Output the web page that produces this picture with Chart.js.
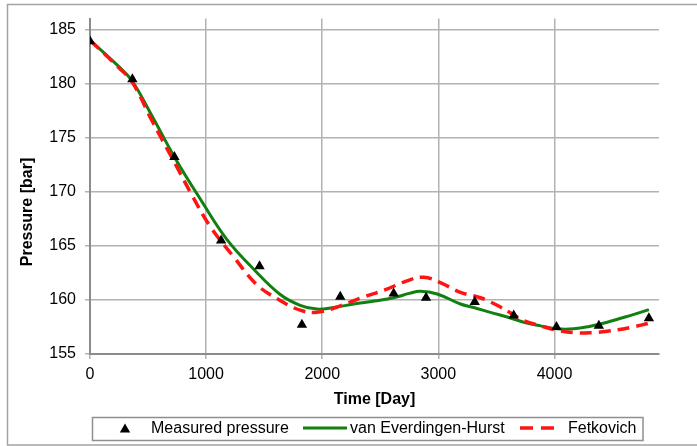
<!DOCTYPE html>
<html>
<head>
<meta charset="utf-8">
<script src="https://cdn.jsdelivr.net/npm/chart.js@4/dist/chart.umd.min.js"></script>
<style>
  html, body { margin: 0; padding: 0; background: #ffffff; }
  #wrap { position: absolute; left: 0; top: 0; width: 697px; height: 446px; }
</style>
</head>
<body>
<div id="wrap"><canvas id="c" width="697" height="446"></canvas></div>
<script>
// ---- data ----
const measuredDays     = [0, 365, 727, 1129, 1460, 1825, 2155, 2615, 2894, 3313, 3649, 4017, 4382, 4813];
const measuredPressure = [183.9, 180.4, 173.2, 165.5, 163.1, 157.7, 160.3, 160.6, 160.2, 159.8, 158.55, 157.5, 157.6, 158.3];

const vehDays     = [0, 244, 359, 532, 733, 963, 1178, 1422, 1638, 1810, 1954, 2100, 2270, 2450, 2615, 2750, 2845, 2990, 3190, 3305, 3448, 3600, 3735, 3880, 4023, 4167, 4300, 4454, 4650, 4813];
const vehPressure = [184.0, 181.6, 180.3, 177.05, 173.1, 169.1, 165.6, 162.7, 160.5, 159.5, 159.15, 159.3, 159.62, 159.9, 160.2, 160.6, 160.8, 160.55, 159.62, 159.3, 158.85, 158.4, 157.94, 157.6, 157.33, 157.33, 157.55, 157.94, 158.55, 159.1];

const fetDays     = [0, 244, 365, 532, 733, 877, 1034, 1236, 1437, 1638, 1810, 1954, 2155, 2328, 2557, 2730, 2873, 3017, 3190, 3362, 3506, 3620, 3735, 3880, 4023, 4196, 4330, 4454, 4655, 4813];
const fetPressure = [184.0, 181.5, 180.1, 176.6, 172.6, 169.7, 166.8, 164.0, 161.4, 159.95, 159.05, 158.85, 159.45, 160.17, 161.0, 161.76, 162.1, 161.6, 160.7, 160.2, 159.5, 158.8, 158.1, 157.6, 157.2, 156.95, 156.98, 157.1, 157.45, 157.85];

const xTicks = [0, 1000, 2000, 3000, 4000];
const yTicks = [155, 160, 165, 170, 175, 180, 185];

const seriesNames = ['Measured pressure', 'van Everdingen-Hurst', 'Fetkovich'];
const xTitle = 'Time [Day]';
const yTitle = 'Pressure [bar]';

// ---- styles ----
const FONT = '"Liberation Sans", Arial, sans-serif';
const GREEN = '#118011';
const RED = '#ff1414';
const GRID = '#b2b2b2';
const AXIS = '#8c8c8c';

function toXY(xs, ys) { return xs.map((x, i) => ({ x: x, y: ys[i] })); }

const decor = {
  id: 'decor',
  beforeDraw(chart) {
    const ctx = chart.ctx;
    ctx.save();
    ctx.fillStyle = '#ffffff';
    ctx.fillRect(0, 0, chart.width, chart.height);
    ctx.restore();
  },
  afterDraw(chart) {
    const ctx = chart.ctx;
    ctx.save();
    // outer frame
    ctx.strokeStyle = '#a3a3a3';
    ctx.lineWidth = 1.5;
    ctx.strokeRect(7.5, 4.5, 700, 440.5);

    // y axis title
    ctx.fillStyle = '#000';
    ctx.font = 'bold 16px ' + FONT;
    ctx.textAlign = 'center';
    ctx.textBaseline = 'middle';
    ctx.save();
    ctx.translate(27.5, 212);
    ctx.rotate(-Math.PI / 2);
    ctx.fillText(yTitle, 0, 0);
    ctx.restore();

    // legend
    const ly = 428.5;
    ctx.strokeStyle = '#8e8e8e';
    ctx.lineWidth = 1.5;
    ctx.strokeRect(92.5, 417.5, 550.5, 23);
    const r = 6, tx = 125, ty = ly + 1;
    ctx.fillStyle = '#000';
    ctx.beginPath();
    ctx.moveTo(tx, ty - r);
    ctx.lineTo(tx + Math.sin(2 * Math.PI / 3) * r, ty - Math.cos(2 * Math.PI / 3) * r);
    ctx.lineTo(tx + Math.sin(4 * Math.PI / 3) * r, ty - Math.cos(4 * Math.PI / 3) * r);
    ctx.closePath();
    ctx.fill();
    ctx.strokeStyle = GREEN; ctx.lineWidth = 3; ctx.setLineDash([]);
    ctx.beginPath(); ctx.moveTo(303, ly - 0.5); ctx.lineTo(347, ly - 0.5); ctx.stroke();
    ctx.strokeStyle = RED; ctx.lineWidth = 3.5; ctx.setLineDash([13, 8]);
    ctx.beginPath(); ctx.moveTo(520, ly - 0.5); ctx.lineTo(555, ly - 0.5); ctx.stroke();
    ctx.setLineDash([]);
    ctx.fillStyle = '#000';
    ctx.font = '16px ' + FONT;
    ctx.textAlign = 'left';
    ctx.textBaseline = 'middle';
    ctx.fillText(seriesNames[0], 151, ly);
    ctx.fillText(seriesNames[1], 350, ly);
    ctx.fillText(seriesNames[2], 568, ly);
    ctx.restore();
  }
};

new Chart(document.getElementById('c'), {
  type: 'scatter',
  data: {
    datasets: [
      {
        label: seriesNames[0],
        data: toXY(measuredDays, measuredPressure),
        showLine: false,
        pointStyle: 'triangle',
        pointRadius: 6,
        pointBackgroundColor: '#000',
        pointBorderColor: '#000',
        pointBorderWidth: 0,
        order: 0
      },
      {
        label: seriesNames[1],
        data: toXY(vehDays, vehPressure),
        showLine: true,
        borderColor: GREEN,
        borderWidth: 3,
        pointRadius: 0,
        tension: 0.4,
        order: 2
      },
      {
        label: seriesNames[2],
        data: toXY(fetDays, fetPressure),
        showLine: true,
        borderColor: RED,
        borderWidth: 3.5,
        borderDash: [12, 7],
        pointRadius: 0,
        tension: 0.4,
        order: 1
      }
    ]
  },
  options: {
    responsive: false,
    animation: false,
    devicePixelRatio: 1,
    layout: { padding: { left: 0, right: 38, top: 16, bottom: 0 } },
    plugins: {
      legend: { display: false },
      tooltip: { enabled: false }
    },
    scales: {
      x: {
        type: 'linear',
        min: 0,
        max: 4900,
        afterFit(s) { s.height = 92; },
        afterBuildTicks(s) { s.ticks = xTicks.map(v => ({ value: v })); },
        ticks: { color: '#000', font: { family: FONT, size: 16 }, padding: 6, maxRotation: 0, callback: v => String(v) },
        grid: { color: GRID, lineWidth: 1.5, tickLength: 5, tickColor: GRID },
        border: { color: AXIS, width: 2 },
        title: { display: true, text: xTitle, color: '#000', font: { family: FONT, size: 16, weight: 'bold' }, padding: { top: 0, bottom: 36.4 } }
      },
      y: {
        type: 'linear',
        min: 155,
        max: 186,
        afterFit(s) { s.width = 90; },
        afterBuildTicks(s) { s.ticks = yTicks.map(v => ({ value: v })); },
        ticks: { color: '#000', font: { family: FONT, size: 16 }, padding: 9, callback: v => String(v) },
        grid: { color: GRID, lineWidth: 1.5, tickLength: 5, tickColor: GRID },
        border: { color: AXIS, width: 2 }
      }
    }
  },
  plugins: [decor]
});
</script>
</body>
</html>
